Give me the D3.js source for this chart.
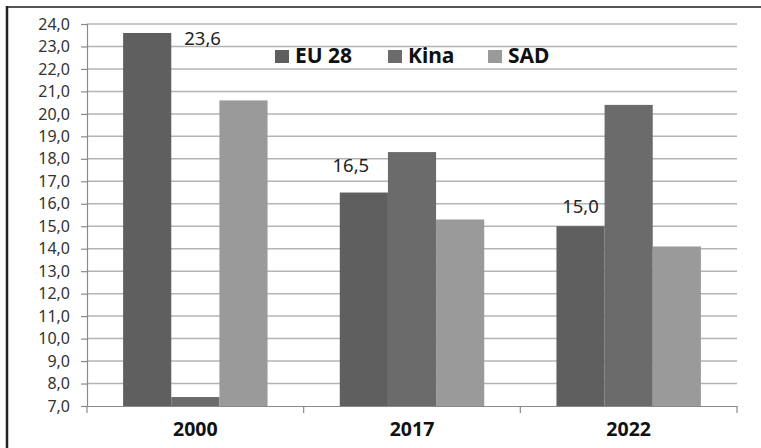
<!DOCTYPE html>
<html>
<head>
<meta charset="utf-8">
<script src="https://cdn.jsdelivr.net/npm/d3@7"></script>
<style>
  body { margin: 0; background: #fff; }
  svg { display: block; font-family: "Noto Sans", "Open Sans", sans-serif; }
</style>
</head>
<body>
<div id="container"></div>
<script>
//DATA
const years = ['2000', '2017', '2022']
const series = ['EU 28', 'Kina', 'SAD']
const eu28 = [23.6, 16.5, 15.0]
const kina = [7.4, 18.3, 20.4]
const sad = [20.6, 15.3, 14.1]
const yTicks = [7, 8, 9, 10, 11, 12, 13, 14, 15, 16, 17, 18, 19, 20, 21, 22, 23, 24]
const euLabels = ['23,6', '16,5', '15,0']

//BOX
const w = 761
const h = 448
const plotLeft = 87, plotRight = 737, plotTop = 24, plotBottom = 406

const colors = { 'EU 28': '#5f5f5f', 'Kina': '#6b6b6b', 'SAD': '#9a9a9a' }

const svg = d3.select('#container')
    .append('svg')
    .attr('width', w)
    .attr('height', h)

//SCALES
const x0 = d3.scaleBand()
    .domain(years)
    .range([plotLeft, plotRight])
    .paddingInner(0)

const x1 = d3.scaleBand()
    .domain(series)
    .range([0, x0.bandwidth()])
    .paddingInner(0)
    .paddingOuter(0.75)

const y = d3.scaleLinear()
    .domain([7, 24])
    .range([plotBottom, plotTop])

const fmt = v => d3.format('.1f')(v).replace('.', ',')

//GRIDLINES
svg.append('g')
    .selectAll('line')
    .data(yTicks.slice(1))
    .enter()
    .append('line')
    .attr('x1', plotLeft)
    .attr('x2', plotRight)
    .attr('y1', d => y(d))
    .attr('y2', d => y(d))
    .attr('stroke', '#b4b4b4')
    .attr('stroke-width', 1.5)

//BARS
const rows = years.map((yr, i) => ({ year: yr, values: [eu28[i], kina[i], sad[i]] }))

svg.append('g')
    .selectAll('g')
    .data(rows)
    .enter()
    .append('g')
    .attr('transform', d => 'translate(' + x0(d.year) + ',0)')
    .selectAll('rect')
    .data(d => d.values.map((v, j) => ({ key: series[j], value: v })))
    .enter()
    .append('rect')
    .attr('x', d => x1(d.key))
    .attr('y', d => y(d.value))
    .attr('width', x1.bandwidth())
    .attr('height', d => y(7) - y(d.value))
    .attr('fill', d => colors[d.key])

//AXES
const yaxis = d3.axisLeft(y)
    .tickValues(yTicks)
    .tickSize(6)
    .tickPadding(11)
    .tickFormat(fmt)

svg.append('g')
    .attr('class', 'y axis')
    .attr('transform', 'translate(' + plotLeft + ',0)')
    .call(yaxis)
    .call(g => g.select('.domain').attr('stroke', '#8a8a8a').attr('stroke-width', 1.2))
    .call(g => g.selectAll('.tick line').attr('stroke', '#8a8a8a').attr('stroke-width', 1.2))
    .call(g => g.selectAll('text').attr('font-size', 16).attr('fill', '#333').attr('font-family', '"Noto Sans", sans-serif'))

const xaxis = d3.axisBottom(x0)
    .tickSize(0)
    .tickPadding(16)

svg.append('g')
    .attr('class', 'x axis')
    .attr('transform', 'translate(0,' + plotBottom + ')')
    .call(xaxis)
    .call(g => g.select('.domain').attr('stroke', '#8a8a8a').attr('stroke-width', 1.2))
    .call(g => g.selectAll('text').attr('font-size', 19.5).attr('font-weight', 'bold').attr('fill', '#111').attr('font-family', '"Noto Sans", sans-serif'))

//category separator ticks
svg.append('g')
    .selectAll('line')
    .data(years.map(d => x0(d)).concat([plotRight]))
    .enter()
    .append('line')
    .attr('x1', d => d)
    .attr('x2', d => d)
    .attr('y1', plotBottom)
    .attr('y2', plotBottom + 7)
    .attr('stroke', '#8a8a8a')
    .attr('stroke-width', 1.2)

//DATA LABELS (hand placed like the original)
const labelNudge = [[13, 12, 'start'], [-13, -21, 'middle'], [0, -13, 'middle']]
svg.append('g')
    .selectAll('text')
    .data(eu28)
    .enter()
    .append('text')
    .attr('x', (d, i) => {
        const bx = x0(years[i]) + x1('EU 28')
        const n = labelNudge[i]
        return n[2] === 'start' ? bx + x1.bandwidth() + n[0] : bx + x1.bandwidth() / 2 + n[0]
    })
    .attr('y', (d, i) => y(d) + labelNudge[i][1])
    .attr('text-anchor', (d, i) => labelNudge[i][2])
    .attr('font-size', 18.5)
    .attr('fill', '#222')
    .text((d, i) => euLabels[i])

//LEGEND
const legendX = [275, 388, 488]
const legend = svg.append('g')
    .selectAll('g')
    .data(series)
    .enter()
    .append('g')
    .attr('transform', (d, i) => 'translate(' + legendX[i] + ',50)')

legend.append('rect')
    .attr('width', 14)
    .attr('height', 13)
    .attr('fill', d => colors[d])

legend.append('text')
    .attr('x', 20)
    .attr('y', 13)
    .attr('font-size', 21)
    .attr('font-weight', 'bold')
    .attr('fill', '#111')
    .text(d => d)

//FRAME
svg.append('line')
    .attr('x1', 6).attr('x2', w)
    .attr('y1', 7).attr('y2', 7)
    .attr('stroke', '#555')
    .attr('stroke-width', 2)

svg.append('line')
    .attr('x1', 7).attr('x2', 7)
    .attr('y1', 6).attr('y2', h)
    .attr('stroke', '#222')
    .attr('stroke-width', 2.5)
</script>
</body>
</html>
